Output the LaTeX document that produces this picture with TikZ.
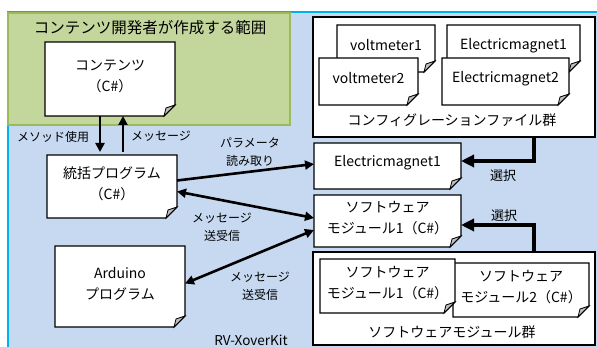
\documentclass[tikz,border=0pt]{standalone}
\usepackage{fontspec}
\setmainfont{Noto Sans CJK JP}
\usetikzlibrary{arrows.meta,calc}
\definecolor{bluebg}{HTML}{C6D9F1}
\definecolor{cyanline}{HTML}{00B0F0}
\definecolor{greenbg}{HTML}{C3D69B}
\definecolor{greenline}{HTML}{9BBB59}
\tikzset{
  docline/.style={draw=black,fill=white,line width=1.3pt,line join=miter},
  fold/.style={draw=black,fill=black!25,line width=0.8pt},
  doctext/.style={inner sep=0pt,outer sep=0pt,align=center,font=\fontsize{14}{21}\selectfont},
  groupbox/.style={draw=black,fill=white,line width=1.3pt,inner sep=0pt,outer sep=0pt},
  lbl/.style={inner sep=0pt,align=center,font=\fontsize{12}{18.5}\selectfont},
  glbl/.style={inner sep=0pt,align=center,font=\fontsize{14}{18}\selectfont},
  bigarrow/.style={line width=2.6pt,-{Triangle[length=9pt,width=9pt]}},
  dblarrow/.style={line width=2.6pt,{Triangle[length=9pt,width=9pt]}-{Triangle[length=9pt,width=9pt]}},
  selarrow/.style={line width=4pt,-{Triangle[length=13pt,width=12pt]}},
}
\newcommand\docnode[6]{%
  \draw[docline] (#2,#3) -- (#4,#3) -- (#4,#5-11) -- (#4-11,#5) -- (#2,#5) -- cycle;
  \filldraw[fold] (#4-11,#5) -- (#4-9,#5-8) .. controls (#4-5,#5-9) .. (#4,#5-11) -- cycle;
  \node[doctext,minimum width={#4-#2},minimum height={#5-#3}] (#1) at ({(#2+#4)/2},{(#3+#5)/2-3}) {#6};
}
\begin{document}
\begin{tikzpicture}[x=1pt,y=-1pt]
\useasboundingbox (0,0) rectangle (597,347);
% backgrounds
\fill[bluebg] (8,12) rectangle (597,347);
\draw[cyanline,line width=2pt] (8,347) -- (8,12) -- (597,12);
\filldraw[fill=greenbg,draw=greenline,line width=1.5pt] (8,13) rectangle (290,125);
\node[inner sep=0pt,font=\fontsize{15.5}{18}\selectfont] (title) at (150,28) {コンテンツ開発者が作成する範囲};

% left documents
\docnode{content}{45}{42}{175}{116}{コンテンツ\\（C\#）}
\docnode{togatsu}{47}{155}{177}{218}{統括プログラム\\（C\#）}
\docnode{arduino}{55}{246}{185}{327}{Arduino\\プログラム}

% configuration group
\node[groupbox,minimum width=282,minimum height=120] (config) at (454,77) {};
\docnode{volt1}{337}{25}{435}{72}{voltmeter1}
\docnode{volt2}{319}{58}{418}{105}{voltmeter2}
\docnode{em1}{447}{25}{580}{72}{Electricmagnet1}
\docnode{em2}{442}{58}{569}{105}{Electricmagnet2}
\node[glbl] (configlbl) at (452,120) {コンフィグレーションファイル群};

% selected items
\docnode{emsel}{314}{143}{461}{189}{Electricmagnet1}
\docnode{swsel}{314}{195}{461}{247}{ソフトウェア\\モジュール1（C\#）}

% software module group
\node[groupbox,minimum width=282,minimum height=93] (swgroup) at (454,298.5) {};
\docnode{sw2}{453}{263}{589}{317}{ソフトウェア\\モジュール2（C\#）}
\docnode{sw1}{320}{259}{455}{313}{ソフトウェア\\モジュール1（C\#）}
\node[glbl] (swlbl) at (452,332) {ソフトウェアモジュール群};

% arrows between content and togatsu
\coordinate (d1) at (100,116);
\coordinate (u1) at (123,116);
\draw[bigarrow] (d1) -- (d1 |- togatsu.north);
\draw[bigarrow] (u1 |- togatsu.north) -- (u1);
\node[lbl] (lmethod) at (53,137) {メソッド使用};
\node[lbl] (lmsg) at (161,136) {メッセージ};

% arrows from togatsu / arduino
\draw[bigarrow] ([yshift=3]togatsu.east) -- ([yshift=-1]emsel.west);
\draw[dblarrow] ([yshift=-8]togatsu.east) -- ([yshift=0]swsel.west);
\draw[dblarrow] (arduino.east) -- ([yshift=-12]swsel.west);
\node[lbl] (lparam) at (250,152) {パラメータ\\読み取り};
\node[lbl] (lmsg2) at (222,227) {メッセージ\\送受信};
\node[lbl] (lmsg3) at (260,286) {メッセージ\\送受信};

% selection arrows
\coordinate (s1) at ([xshift=80]config.south);
\coordinate (s2) at ([xshift=80]swgroup.north);
\draw[selarrow] (s1) |- ([yshift=2]emsel.east);
\draw[selarrow] (s2) |- ([yshift=-7]swsel.east);
\node[lbl,font=\fontsize{13}{16}\selectfont] (lsel1) at (503,176) {選択};
\node[lbl,font=\fontsize{13}{16}\selectfont] (lsel2) at (504,216) {選択};

\node[inner sep=0pt,font=\fontsize{13.5}{16}\selectfont] (kit) at (251,340) {RV-XoverKit};
\end{tikzpicture}
\end{document}
